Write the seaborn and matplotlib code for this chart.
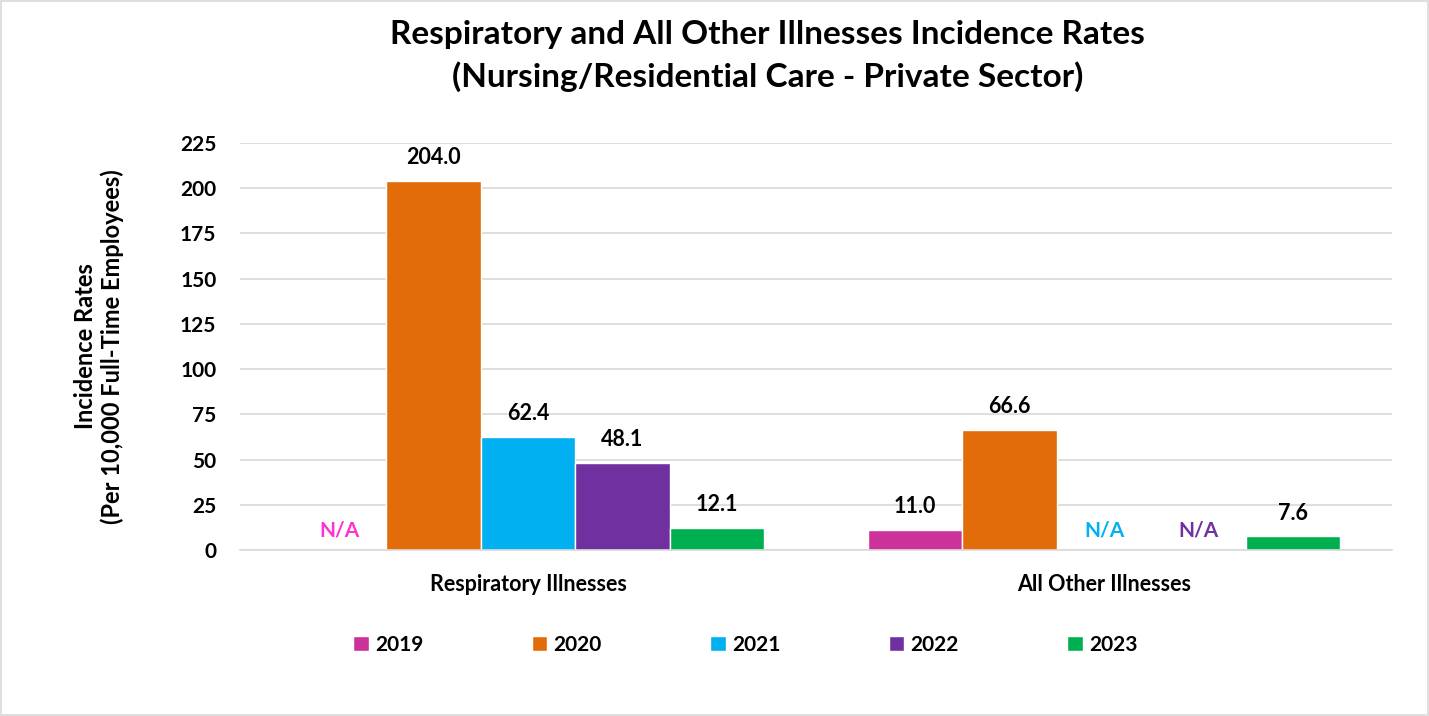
import numpy as np
import pandas as pd
import matplotlib
matplotlib.use("Agg")
import matplotlib.pyplot as plt
import seaborn as sns

# data
categories = ["Respiratory Illnesses", "All Other Illnesses"]
years = ["2019", "2020", "2021", "2022", "2023"]
respiratory = [np.nan, 204.0, 62.4, 48.1, 12.1]
other = [11.0, 66.6, np.nan, np.nan, 7.6]
colors = ["#CC3399", "#E36C0A", "#00B0F0", "#7030A0", "#00B050"]
na_colors = ["#FF33CC", "#E36C0A", "#00B0F0", "#7030A0", "#00B050"]

rows = []
for cat, vals in zip(categories, [respiratory, other]):
    for y, v in zip(years, vals):
        rows.append({"Category": cat, "Year": y, "Rate": v})
df = pd.DataFrame(rows)

sns.set_style("white")
plt.rcParams["font.family"] = ["Lato", "DejaVu Sans"]
plt.rcParams["font.weight"] = "bold"
plt.rcParams["text.color"] = "black"
plt.rcParams["axes.labelcolor"] = "black"
plt.rcParams["xtick.color"] = "black"
plt.rcParams["ytick.color"] = "black"

fig = plt.figure(figsize=(14.29, 7.16), dpi=100)
ax = fig.add_axes([240 / 1429, 1 - 550 / 716, 1152 / 1429, 407 / 716])

width = 0.82
sns.barplot(data=df, x="Category", y="Rate", hue="Year", palette=colors,
            width=width, gap=0, ax=ax, saturation=1, legend=True)

ax.set_ylim(0, 225)
ax.set_xlim(-0.5, 1.5)
ax.set_yticks(np.arange(0, 226, 25))
ax.yaxis.grid(True, color="#D9D9D9", linewidth=1.2)
ax.set_axisbelow(True)
for s in ["left", "right", "top"]:
    ax.spines[s].set_visible(False)
ax.spines["bottom"].set_color("#D9D9D9")
ax.spines["bottom"].set_linewidth(1.2)
ax.tick_params(axis="y", length=0, labelsize=15, pad=17)
ax.tick_params(axis="x", length=0, labelsize=15.5, pad=17)
ax.set_xticks([-0.5, 0.5, 1.5], minor=True)
ax.tick_params(axis="x", which="minor", length=6, color="#D9D9D9", width=1.2)
for lab in ax.get_xticklabels() + ax.get_yticklabels():
    lab.set_fontweight("bold")
ax.set_xlabel("")
ax.set_ylabel("Incidence Rates\n(Per 10,000 Full-Time Employees)")
ax.yaxis.label.set_fontsize(17)
ax.yaxis.label.set_fontweight("bold")
ax.yaxis.labelpad = 40

# value labels / N/A markers
bw = width / len(years)
for ci, vals in enumerate([respiratory, other]):
    for yi, v in enumerate(vals):
        xc = ci - width / 2 + bw * (yi + 0.5)
        if np.isnan(v):
            ax.text(xc, 11, "N/A", ha="center", va="center", fontsize=15,
                    fontweight="bold", color=na_colors[yi])
        else:
            ax.text(xc, v + 7, f"{v:.1f}", ha="center", va="bottom",
                    fontsize=15.5, fontweight="bold", color="black")

handles, labels = ax.get_legend_handles_labels()
ax.get_legend().remove()
fig.legend(handles, labels, loc="center", bbox_to_anchor=(0.5215, 1 - 645 / 716),
           ncol=5, frameon=False, handlelength=0.75, handleheight=0.75,
           handletextpad=0.3, columnspacing=5.2,
           prop={"size": 15, "weight": "bold"})

fig.text(0.537, 1 - 56 / 716,
         "Respiratory and All Other Illnesses Incidence Rates\n(Nursing/Residential Care - Private Sector)",
         ha="center", va="center", fontsize=24, fontweight="bold",
         linespacing=1.5, color="black")

fig.patches.append(plt.Rectangle((0.001, 0.001), 0.998, 0.998, transform=fig.transFigure,
                                 fill=False, edgecolor="#D9D9D9", linewidth=1.2))

fig.savefig("out.png", dpi=100)
